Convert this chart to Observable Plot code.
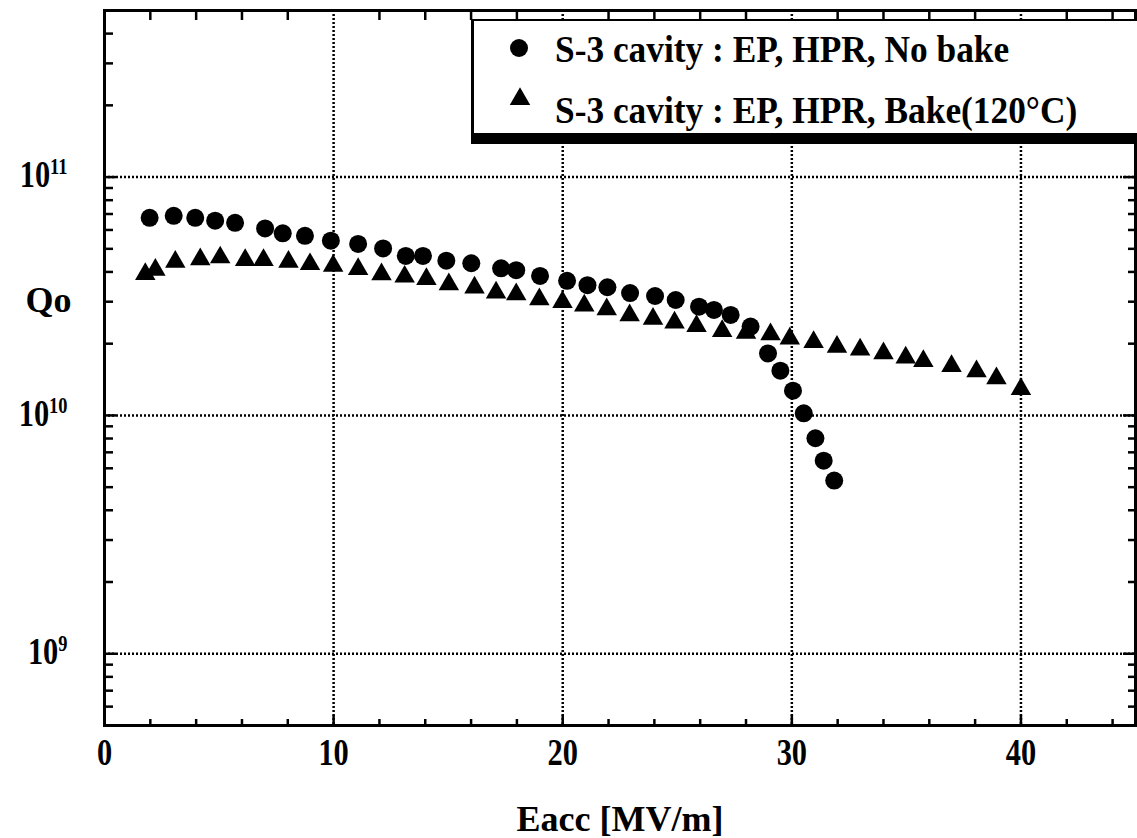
<!DOCTYPE html>
<html>
<head>
<meta charset="utf-8">
<script src="https://cdn.jsdelivr.net/npm/d3@7"></script>
<script src="https://cdn.jsdelivr.net/npm/@observablehq/plot@0.6"></script>
<style>
html, body { margin: 0; padding: 0; background: #fff; }
#wrap { position: relative; width: 1137px; height: 838px; overflow: hidden; background: #fff; }
#legend { position: absolute; left: 471px; top: 19px; width: 666px; height: 112px; background: #fff;
  border-top: 2px solid #000; border-left: 3px solid #000; border-bottom: 11px solid #000; }
#legend .item { position: absolute; left: 81px; font-family: 'Liberation Serif', 'Times New Roman', serif;
  font-weight: bold; font-size: 38px; line-height: 38px; white-space: nowrap; color: #000;
  transform: scaleX(0.93); transform-origin: left center; }
#legend svg { position: absolute; left: 0; top: 0; overflow: visible; }
</style>
</head>
<body>
<div id="wrap"></div>
<script>
// ---- data ----
const noBakeE = [1.97, 3.02, 3.96, 4.83, 5.70, 7.01, 7.78, 8.75, 9.88, 11.07, 12.16, 13.15, 13.90, 14.92, 16.01,
  17.31, 17.97, 19.01, 20.19, 21.08, 21.95, 22.94, 24.03, 24.93, 25.95, 26.6, 27.33, 28.2, 28.96, 29.5,
  30.05, 30.52, 31.03, 31.39, 31.85];
const noBakeQ = [6.75e10, 6.88e10, 6.75e10, 6.56e10, 6.43e10, 6.09e10, 5.81e10, 5.67e10, 5.41e10, 5.24e10,
  5.02e10, 4.67e10, 4.67e10, 4.46e10, 4.35e10, 4.14e10, 4.07e10, 3.85e10, 3.67e10, 3.52e10,
  3.45e10, 3.26e10, 3.17e10, 3.05e10, 2.86e10, 2.77e10, 2.64e10, 2.36e10, 1.82e10, 1.54e10,
  1.27e10, 1.02e10, 8.02e9, 6.46e9, 5.33e9];
const bakeE = [1.78, 2.22, 3.09, 4.18, 5.05, 6.14, 6.94, 8.03, 8.97, 9.98, 11.07, 12.09, 13.10, 14.05, 15.03,
  16.15, 17.09, 17.97, 18.98, 19.99, 20.94, 21.92, 22.92, 23.94, 24.88, 25.84, 26.96, 28.0, 29.07, 29.91,
  30.95, 31.97, 32.98, 34.0, 34.97, 35.74, 36.97, 38.06, 38.93, 40.0];
const bakeQ = [3.92e10, 4.08e10, 4.41e10, 4.52e10, 4.60e10, 4.49e10, 4.49e10, 4.41e10, 4.31e10, 4.24e10,
  4.11e10, 3.91e10, 3.82e10, 3.73e10, 3.55e10, 3.44e10, 3.28e10, 3.22e10, 3.07e10, 2.99e10,
  2.89e10, 2.79e10, 2.63e10, 2.54e10, 2.45e10, 2.37e10, 2.26e10, 2.22e10, 2.19e10, 2.10e10,
  2.03e10, 1.94e10, 1.89e10, 1.82e10, 1.75e10, 1.69e10, 1.61e10, 1.53e10, 1.43e10, 1.29e10];

const seriesLabels = ["S-3 cavity : EP, HPR, No bake", "S-3 cavity : EP, HPR, Bake(120\u00B0C)"];
const xLabel = "Eacc [MV/m]";
const yLabel = "Qo";
const xDomain = [0, 45];
const yDomain = [5e8, 5e11];
const xMajor = [0, 10, 20, 30, 40];
const xGrid = [10, 20, 30, 40];
const xMinor = [2, 4, 6, 8, 12, 14, 16, 18, 22, 24, 26, 28, 32, 34, 36, 38, 42, 44];
const yMajor = [1e9, 1e10, 1e11];
const yMajorExp = ["9", "10", "11"];
const yMinorMult = [2, 3, 4, 5, 6, 7, 8, 9];
const yDecades = [1e8, 1e9, 1e10, 1e11];

// ---- layout ----
const W = 1137, H = 838, mL = 104, mR = 2, mT = 10, mB = 113;
const plotW = W - mL - mR, plotH = H - mT - mB;

const noBake = noBakeE.map((e, i) => ({e, q: noBakeQ[i]}));
const bake = bakeE.map((e, i) => ({e, q: bakeQ[i]}));
const yMinor = yDecades.flatMap(d => yMinorMult.map(m => m * d))
  .filter(v => v >= yDomain[0] && v <= yDomain[1]);

const ink = {stroke: "black", strokeWidth: 2.5};
const grid = {stroke: "black", strokeOpacity: 1, strokeWidth: 2.5, strokeDasharray: "2,2"};

const chart = Plot.plot({
  width: W, height: H,
  marginLeft: mL, marginRight: mR, marginTop: mT, marginBottom: mB,
  style: {fontFamily: "'Liberation Serif', 'Times New Roman', serif", fontWeight: "bold",
    fontSize: "36px", background: "white", color: "black", overflow: "visible"},
  x: {domain: xDomain, axis: null},
  y: {type: "log", domain: yDomain, axis: null},
  marks: [
    Plot.ruleX(xGrid, {x: d => d, ...grid}),
    Plot.ruleY(yMajor, {y: d => d, ...grid}),
    // bottom ticks
    Plot.ruleX(xMinor, {x: d => d, insetTop: plotH - 6, ...ink}),
    Plot.ruleX(xMajor, {x: d => d, insetTop: plotH - 10, ...ink}),
    // top ticks
    Plot.ruleX(xMinor, {x: d => d, insetBottom: plotH - 10, ...ink}),
    // left ticks
    Plot.ruleY(yMinor, {y: d => d, insetRight: plotW - 9, ...ink}),
    Plot.ruleY(yMajor, {y: d => d, insetRight: plotW - 12, ...ink}),
    // right ticks
    Plot.ruleY(yMinor, {y: d => d, insetLeft: plotW - 7, ...ink}),
    Plot.ruleY(yMajor, {y: d => d, insetLeft: plotW - 12, ...ink}),
    Plot.frame({stroke: "black", strokeWidth: 3}),
    Plot.dot(bake, {x: "e", y: "q", symbol: "triangle", r: 7.6, fill: "black", stroke: "none"}),
    Plot.dot(noBake, {x: "e", y: "q", symbol: "circle", r: 9, fill: "black", stroke: "none"}),
    Plot.text(xMajor, {x: d => d, frameAnchor: "bottom", lineAnchor: "top", textAnchor: "middle",
      dy: 13, fontSize: 38, text: d => String(d)}),
    Plot.text(yMajor, {y: d => d, frameAnchor: "left", textAnchor: "end", lineAnchor: "middle",
      dx: -37, dy: -2, fontSize: 38, text: (d, i) => "10^" + yMajorExp[i]}),
    Plot.text([xLabel], {frameAnchor: "bottom", textAnchor: "middle", lineAnchor: "middle",
      dy: 94, text: d => d}),
    Plot.text([yLabel], {frameAnchor: "left", textAnchor: "middle", lineAnchor: "middle",
      dx: -56, dy: -68, text: d => d})
  ]
});

const wrap = document.getElementById("wrap");
wrap.appendChild(chart);

// superscripts for the log tick labels, and a slight condensing of tick digits
const NS = "http://www.w3.org/2000/svg";
chart.querySelectorAll("text").forEach(t => {
  const s = t.textContent;
  if (s.indexOf("^") >= 0) {
    const [b, e] = s.split("^");
    while (t.firstChild) t.removeChild(t.firstChild);
    const s1 = document.createElementNS(NS, "tspan");
    s1.textContent = b;
    const s2 = document.createElementNS(NS, "tspan");
    s2.textContent = e;
    s2.setAttribute("dy", "-13");
    s2.setAttribute("font-size", "23");
    t.appendChild(s1);
    t.appendChild(s2);
    t.setAttribute("transform", (t.getAttribute("transform") || "") + " scale(0.8,1)");
  } else if (/^\d+$/.test(s)) {
    t.setAttribute("transform", (t.getAttribute("transform") || "") + " scale(0.8,1)");
  }
});

// legend (overlay box in the upper right of the frame)
const legend = document.createElement("div");
legend.id = "legend";
legend.innerHTML = `
  <svg width="100" height="112">
    <circle cx="45" cy="27" r="9" fill="#000"></circle>
    <path d="${d3.symbol(d3.symbolTriangle, Math.PI * 7.6 * 7.6)()}" transform="translate(46,78)" fill="#000"></path>
  </svg>
  <div class="item" style="top:9px">${seriesLabels[0]}</div>
  <div class="item" style="top:70px">${seriesLabels[1]}</div>`;
wrap.appendChild(legend);
</script>
</body>
</html>
